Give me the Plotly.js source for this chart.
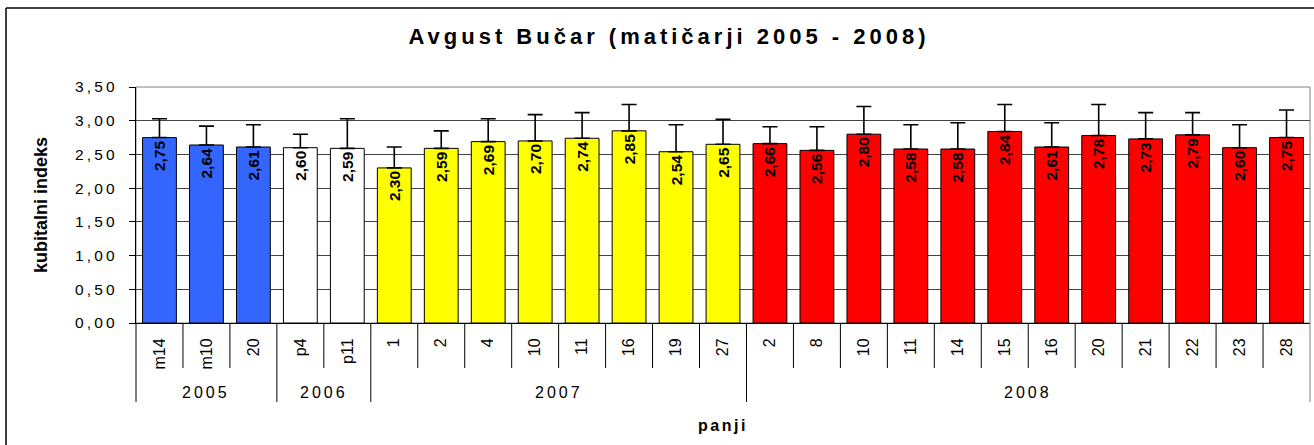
<!DOCTYPE html>
<html>
<head>
<meta charset="utf-8">
<script src="https://cdn.plot.ly/plotly-3.0.1.min.js"></script>
<style>
  html, body { margin: 0; padding: 0; background: #fff; }
  #chart { width: 1314px; height: 445px; }
  .gtitle { letter-spacing: 4px; }
  .ytick text { letter-spacing: 3.2px; }
  .annotation-text { letter-spacing: 3px; }
  .g-xtitle text { letter-spacing: 2.5px; }
</style>
</head>
<body>
<div id="chart"></div>
<script>
// ---- data ----
const years  = ['2005','2005','2005','2006','2006',
                '2007','2007','2007','2007','2007','2007','2007','2007',
                '2008','2008','2008','2008','2008','2008','2008','2008','2008','2008','2008','2008'];
const panji  = ['m14','m10','20','p4','p11',
                '1','2','4','10','11','16','19','27',
                '2','8','10','11','14','15','16','20','21','22','23','28'];
const indeks = [2.75,2.64,2.61,2.60,2.59,
                2.30,2.59,2.69,2.70,2.74,2.85,2.54,2.65,
                2.66,2.56,2.80,2.58,2.58,2.84,2.61,2.78,2.73,2.79,2.60,2.75];
const napaka = [0.28,0.28,0.33,0.20,0.44,
                0.31,0.26,0.34,0.39,0.38,0.39,0.40,0.37,
                0.25,0.35,0.41,0.36,0.39,0.40,0.36,0.46,0.39,0.33,0.34,0.41];
const yTickVals = [0,0.5,1,1.5,2,2.5,3,3.5];

// ---- styles ----
const yearColor = {'2005':'#3366FF','2006':'#FFFFFF','2007':'#FFFF00','2008':'#FF0000'};
const FONT = 'Liberation Sans, Arial, Helvetica, sans-serif';

// plot-area geometry (px)
const W = 1314, H = 445, ML = 136, MR = 4, MT = 87, MB = 122;
const PW = W - ML - MR, PH = H - MT - MB;
const pyBelow = px => -px / PH;           // paper y for px below the x axis
const pxToPaperX = px => (px - ML) / PW;

const idx = panji.map((_, i) => i);
const n = panji.length;

const trace = {
  type: 'bar',
  x: idx,
  y: indeks,
  width: 0.72,
  marker: { color: years.map(y => yearColor[y]), line: { color: '#000', width: 1 } },
  error_y: { type: 'data', symmetric: false, array: napaka,
             arrayminus: indeks.map(() => 0), color: '#000', thickness: 1.6, width: 7.5 },
  texttemplate: '%{y:.2f}',
  textposition: 'inside',
  insidetextanchor: 'end',
  textangle: -90,
  constraintext: 'none',
  insidetextfont: { family: FONT, size: 15.5, color: '#000', weight: 'bold' },
  hoverinfo: 'none',
  cliponaxis: false
};

// dividers under the x axis
const shapes = [
  { type: 'rect', xref: 'paper', yref: 'paper', x0: 0, x1: 1, y0: 0, y1: 1,
    line: { color: '#808080', width: 1 }, layer: 'below' },
  // outer chart frame (left and top edges)
  { type: 'line', xref: 'paper', yref: 'paper',
    x0: pxToPaperX(6), x1: pxToPaperX(6), y0: 1 + (MT - 8) / PH, y1: pyBelow(H + 20 - MT - PH),
    line: { color: '#000', width: 1.5 } },
  { type: 'line', xref: 'paper', yref: 'paper',
    x0: pxToPaperX(6), x1: pxToPaperX(W + 20), y0: 1 + (MT - 8) / PH, y1: 1 + (MT - 8) / PH,
    line: { color: '#000', width: 1.5 } }
];
for (let i = 0; i <= n; i++) {
  const isGroupEdge = (i === 0 || i === n || years[i] !== years[i - 1]);
  shapes.push({
    type: 'line', xref: 'paper', yref: 'paper',
    x0: i / n, x1: i / n, y0: 0, y1: pyBelow(isGroupEdge ? 79 : 45),
    line: { color: i === n ? '#808080' : '#000', width: 1 }
  });
}

// group (year) labels
const groups = [...new Set(years)];
const annotations = groups.map(g => {
  const first = years.indexOf(g), last = years.lastIndexOf(g);
  return {
    text: g, xref: 'paper', yref: 'paper',
    x: (first + last + 1) / 2 / n, y: pyBelow(69),
    xanchor: 'center', yanchor: 'middle', showarrow: false,
    font: { family: FONT, size: 16, color: '#000' }
  };
});

const layout = {
  width: W, height: H,
  margin: { l: ML, r: MR, t: MT, b: MB },
  paper_bgcolor: '#fff', plot_bgcolor: '#fff',
  showlegend: false,
  separators: ', ',
  font: { family: FONT, color: '#000' },
  title: { text: 'Avgust Bučar (matičarji 2005 - 2008)',
           font: { family: FONT, size: 22, weight: 'bold', color: '#000' },
           xref: 'container', x: 669 / W, xanchor: 'center',
           yref: 'container', y: 1 - 36 / H, yanchor: 'middle' },
  xaxis: {
    type: 'linear',
    range: [-0.5, n - 0.5],
    tickmode: 'array', tickvals: idx, ticktext: panji,
    tickangle: -90,
    tickfont: { family: FONT, size: 16, color: '#000' },
    ticks: '', ticklabelstandoff: 8,
    showline: true, linecolor: '#000', linewidth: 1,
    showgrid: false, zeroline: false,
    title: { text: 'panji', font: { family: FONT, size: 16, weight: 'bold', color: '#000' }, standoff: 51 }
  },
  yaxis: {
    range: [0, 3.5],
    tickvals: yTickVals,
    tickformat: '.2f',
    tickfont: { family: FONT, size: 15.5, color: '#000' },
    ticks: 'outside', ticklen: 6, tickcolor: '#000',
    ticklabelstandoff: 8,
    showline: true, linecolor: '#000', linewidth: 1,
    showgrid: true, gridcolor: '#444', gridwidth: 1,
    zeroline: false,
    title: { text: 'kubitalni indeks', font: { family: FONT, size: 18, weight: 'bold', color: '#000' }, standoff: 22 }
  },
  shapes: shapes,
  annotations: annotations
};

Plotly.newPlot('chart', [trace], layout, { staticPlot: true, displayModeBar: false });
</script>
</body>
</html>
